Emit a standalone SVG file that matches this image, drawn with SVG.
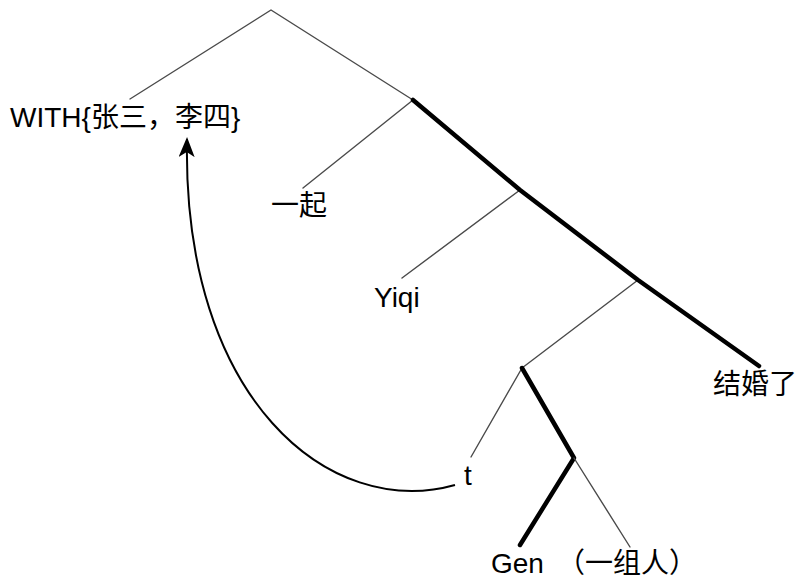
<svg xmlns="http://www.w3.org/2000/svg" width="800" height="581" viewBox="0 0 800 581">
<style>
.thin{stroke:#4a4a4a;stroke-width:1.4;fill:none;stroke-linecap:round}
.thick{stroke:#000;stroke-width:4.5;fill:none;stroke-linecap:round;stroke-linejoin:round}
.lbl{font-family:"Liberation Sans","Noto Sans CJK SC",sans-serif;font-size:28px;fill:#000}
</style>
<defs>
<marker id="ah" viewBox="0 0 20 16" refX="18" refY="8" markerWidth="20" markerHeight="16" markerUnits="userSpaceOnUse" orient="auto">
<path d="M0,0 L20,8 L0,16 L5,8 Z" fill="#000"/>
</marker>
</defs>
<rect width="800" height="581" fill="#fff"/>
<g id="connectors">
<path class="thin" d="M130,99 L271,10 L413,100"/>
<path class="thin" d="M413,100 L303,188"/>
<path class="thin" d="M520,190 L402,278"/>
<path class="thin" d="M638,280 L522,368"/>
<path class="thick" d="M413,100 L520,190 L638,280 L759,366"/>
<path class="thin" d="M522,368 L471,457"/>
<path class="thick" d="M522,368 L574,458 L520,545"/>
<path class="thin" d="M574,458 L630,547"/>
<path d="M455,485 C330,520 182,400 187,139" fill="none" stroke="#000" stroke-width="2" marker-end="url(#ah)"/>
</g>
<g id="node-with"><text class="lbl" x="10" y="127">WITH{张三，李四}</text></g>
<g id="node-yiqi-cn"><text class="lbl" x="271" y="215">一起</text></g>
<g id="node-yiqi"><text class="lbl" x="374" y="307">Yiqi</text></g>
<g id="node-jiehun"><text class="lbl" x="713" y="394">结婚了</text></g>
<g id="node-t"><text class="lbl" x="464" y="485">t</text></g>
<g id="node-gen"><text class="lbl" x="491" y="573">Gen</text><text class="lbl" x="557" y="573">（一组人）</text></g>
</svg>
